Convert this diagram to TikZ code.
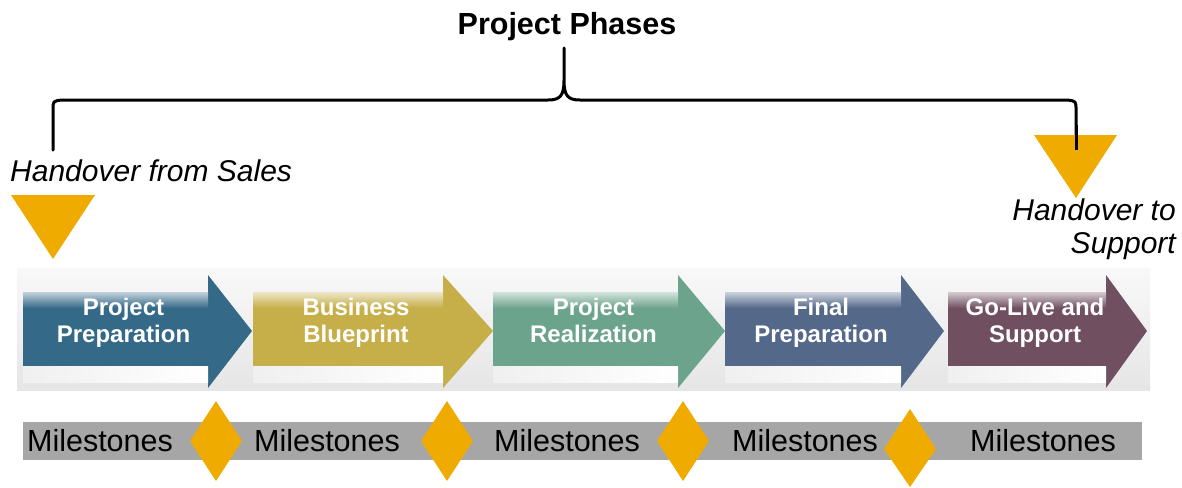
\documentclass[tikz,border=0pt]{standalone}
\usepackage{fontspec}
\setmainfont{Liberation Sans}
\definecolor{gold}{HTML}{F0AB00}
\definecolor{barg}{HTML}{A6A6A6}
\definecolor{cA}{HTML}{346987}
\definecolor{cB}{HTML}{C6AE48}
\definecolor{cC}{HTML}{6CA38D}
\definecolor{cD}{HTML}{54688A}
\definecolor{cE}{HTML}{705060}
\newcommand\phasearrow[6]{%
  \fill[#5] (#2,292) -- (#3,292) -- (#3,275) -- (#4,331) -- (#3,388) -- (#3,366) -- (#2,366) -- cycle;
  \shade[top color=#5!30!white, bottom color=#5] (#2,292) rectangle (#3,308);
  \shade[left color=gray!12, right color=white] (#2,366) rectangle (#3,382);
  \node[phasetext, anchor=north] (#1) at ({(#2+#3)/2+8},298) {#6};
}
\begin{document}
\begin{tikzpicture}[x=1pt,y=-1pt,
  phasetext/.style={text=white, font=\fontsize{24}{27}\selectfont\bfseries, align=center, inner sep=0pt},
  ms/.style={font=\fontsize{30.5}{32}\selectfont, inner sep=0pt, text=black},
  hand/.style={font=\fontsize{30}{34}\selectfont\itshape, inner sep=0pt},
  marker/.style={fill=gold}]
\useasboundingbox (0,0) rectangle (1182,487);
\fill[white] (0,0) rectangle (1182,487);
% title and brace
\node[anchor=base, font=\fontsize{30.5}{33}\selectfont\bfseries, inner sep=0pt] (title) at (567,35) {Project Phases};
\draw[line width=3pt, line cap=round, line join=round]
  (53,150) -- (53,110) .. controls (53,101) .. (62,100) -- (548,100)
  .. controls (560,100) and (564,96) .. (564,80) -- (564,48) -- (564,80)
  .. controls (564,96) and (568,100) .. (580,100) -- (1067,100)
  .. controls (1076,101) .. (1076,110) -- (1076,150);
% handover markers
\fill[marker] (11,195) -- (95,195) -- (53,259) -- cycle;
\fill[marker] (1034,135) -- (1117,135) -- (1076,198) -- cycle;
\draw[line width=3pt] (1076,125) -- (1076,150);
\node[hand, anchor=base west] (hfs) at (10,181) {Handover from Sales};
\node[hand, anchor=base east] (hts1) at (1176,220) {Handover to};
\node[hand, anchor=base east] (hts2) at (1176,253) {Support};
% arrow band
\shade[top color=gray!5, bottom color=gray!20] (17,268) rectangle (1150,390);
\phasearrow{p1}{23}{208}{252}{cA}{Project\\Preparation}
\phasearrow{p2}{253}{443}{493}{cB}{Business\\Blueprint}
\phasearrow{p3}{493}{678}{725}{cC}{Project\\Realization}
\phasearrow{p4}{725}{901}{944}{cD}{Final\\Preparation}
\phasearrow{p5}{948}{1106}{1147}{cE}{Go-Live and\\Support}
% milestones bar
\fill[barg] (23,422) rectangle (1142,460);
\node[ms] (m1) at (100,441) {Milestones};
\node[ms] (m2) at (327,441) {Milestones};
\node[ms] (m3) at (567,441) {Milestones};
\node[ms] (m4) at (805,441) {Milestones};
\node[ms] (m5) at (1043,441) {Milestones};
\fill[marker] (216,401) -- (242,441) -- (216,481) -- (190,441) -- cycle;
\fill[marker] (447,401) -- (473,441) -- (447,481) -- (421,441) -- cycle;
\fill[marker] (683,401) -- (709,441) -- (683,481) -- (657,441) -- cycle;
\fill[marker] (910,409) -- (936,449) -- (910,487) -- (884,449) -- cycle;
\end{tikzpicture}
\end{document}
